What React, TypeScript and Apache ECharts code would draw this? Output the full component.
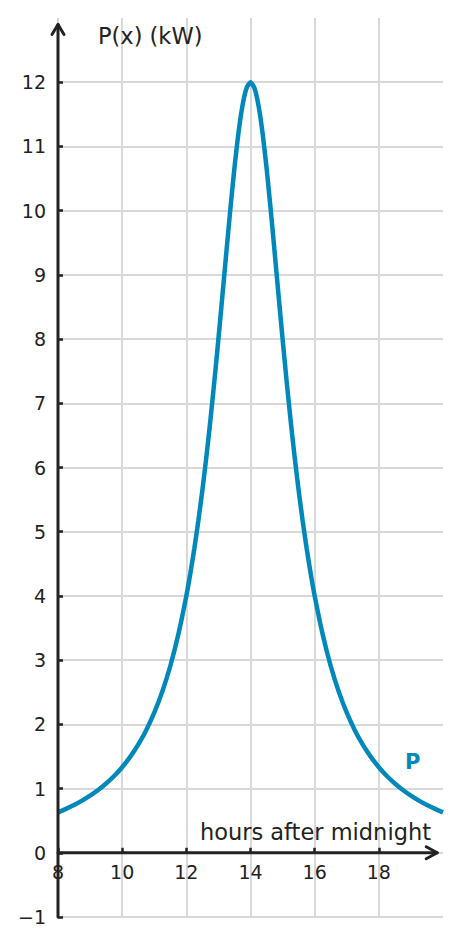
import React, { useEffect, useRef } from 'react';
import * as echarts from 'echarts';

const hours = [
  8, 8.25, 8.5, 8.75, 9, 9.25, 9.5, 9.75, 10, 10.25, 10.5, 10.75, 11, 11.25, 11.5, 11.75,
  12, 12.125, 12.25, 12.375, 12.5, 12.625, 12.75, 12.875, 13, 13.125, 13.25, 13.375, 13.5, 13.625, 13.75, 13.875,
  14, 14.125, 14.25, 14.375, 14.5, 14.625, 14.75, 14.875, 15, 15.125, 15.25, 15.375, 15.5, 15.625, 15.75, 15.875,
  16, 16.25, 16.5, 16.75, 17, 17.25, 17.5, 17.75, 18, 18.25, 18.5, 18.75, 19, 19.25, 19.5, 19.75, 20,
];
const power = [
  0.63, 0.684, 0.744, 0.812, 0.889, 0.977, 1.079, 1.196, 1.333, 1.494, 1.684, 1.91, 2.182, 2.51, 2.909, 3.398,
  4.0, 4.351, 4.741, 5.172, 5.647, 6.169, 6.737, 7.349, 8.0, 8.678, 9.366, 10.039, 10.667, 11.212, 11.636, 11.907,
  12.0, 11.907, 11.636, 11.212, 10.667, 10.039, 9.366, 8.678, 8.0, 7.349, 6.737, 6.169, 5.647, 5.172, 4.741, 4.351,
  4.0, 3.398, 2.909, 2.51, 2.182, 1.91, 1.684, 1.494, 1.333, 1.196, 1.079, 0.977, 0.889, 0.812, 0.744, 0.684, 0.63,
];
const xTickValues = [8, 10, 12, 14, 16, 18];
const yTickValues = [-1, 0, 1, 2, 3, 4, 5, 6, 7, 8, 9, 10, 11, 12];

const FONT = 'DejaVu Sans';
const INK = '#222222';
const GRID = '#d8d8d8';
const BLUE = '#0088bb';
const NONE = 'rgba(0,0,0,0)';

export default function App() {
  const ref = useRef<HTMLDivElement>(null);
  useEffect(() => {
    const chart = echarts.init(ref.current!, null, { renderer: 'svg' });
    const xSplitColors = [GRID, GRID, GRID, GRID, GRID, GRID, NONE];
    const ySplitColors = [...Array(14).fill(GRID), NONE];
    chart.setOption({
      animation: false,
      grid: { left: 58, right: 18, top: 18, bottom: 29, containLabel: false },
      xAxis: {
        type: 'value',
        min: 8,
        max: 20,
        interval: 2,
        position: 'bottom',
        offset: 0,
        axisLine: { show: true, onZero: false, lineStyle: { color: NONE } },
        axisTick: { show: true, inside: true, length: 5, lineStyle: { color: INK, width: 2.5 }, customValues: xTickValues },
        axisLabel: { customValues: xTickValues, color: INK, fontSize: 19, fontFamily: FONT, margin: 10 },
        splitLine: { show: true, lineStyle: { color: xSplitColors, width: 2 } },
      },
      yAxis: {
        type: 'value',
        min: -1,
        max: 13,
        interval: 1,
        axisLine: { show: true, onZero: false, lineStyle: { color: NONE } },
        axisTick: { show: true, inside: true, length: 5, lineStyle: { color: INK, width: 2.5 }, customValues: yTickValues },
        axisLabel: {
          customValues: yTickValues,
          color: INK,
          fontSize: 19,
          fontFamily: FONT,
          margin: 12,
          formatter: (v: number) => (v < 0 ? '\u2212' + Math.abs(v) : String(v)),
        },
        splitLine: { show: true, lineStyle: { color: ySplitColors, width: 2 } },
      },
      series: [
        {
          type: 'line',
          data: hours.map((h, i) => [h, power[i]]),
          showSymbol: false,
          smooth: 0.2,
          lineStyle: { color: BLUE, width: 4.5 },
          itemStyle: { color: BLUE },
          z: 5,
        },
      ],
    });

    const p = (x: number, y: number) => chart.convertToPixel({ gridIndex: 0 }, [x, y]) as number[];
    const yBottom = p(8, -1);
    const yTop = p(8, 12.9);
    const xLeft = p(8, 0);
    const xRight = p(19.82, 0);
    const axisStyle = { stroke: INK, lineWidth: 3, fill: 'none', lineCap: 'round', lineJoin: 'round' };
    chart.setOption({
      xAxis: { offset: -(yBottom[1] - xLeft[1]) },
      graphic: [
        { type: 'polyline', z: 10, shape: { points: [yBottom, yTop] }, style: axisStyle },
        {
          type: 'polyline', z: 10,
          shape: { points: [[yTop[0] - 6, yTop[1] + 10], yTop, [yTop[0] + 6, yTop[1] + 10]] },
          style: axisStyle,
        },
        { type: 'polyline', z: 10, shape: { points: [xLeft, xRight] }, style: axisStyle },
        {
          type: 'polyline', z: 10,
          shape: { points: [[xRight[0] - 11, xRight[1] - 6], xRight, [xRight[0] - 11, xRight[1] + 6]] },
          style: axisStyle,
        },
        {
          type: 'text', left: 98, top: 24, z: 10,
          style: { text: 'P(x) (kW)', fill: INK, fontSize: 22.5, fontFamily: FONT },
        },
        {
          type: 'text', right: 30, top: 820, z: 10,
          style: { text: 'hours after midnight', fill: INK, fontSize: 22.5, fontFamily: FONT },
        },
        {
          type: 'text', left: 405, top: 751, z: 10,
          style: { text: 'P', fill: BLUE, fontSize: 21, fontWeight: 'bold', fontFamily: FONT },
        },
      ],
    });
    return () => chart.dispose();
  }, []);
  return <div ref={ref} style={{ position: 'absolute', left: 0, top: 0, width: 461, height: 946 }} />;
}
